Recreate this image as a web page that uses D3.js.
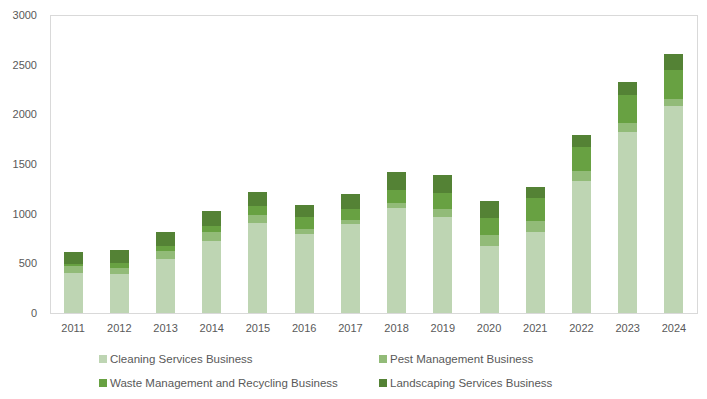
<!DOCTYPE html>
<meta charset="utf-8">
<style>
body { margin: 0; background: #fff; }
.axis text { font: 11px "Liberation Sans", sans-serif; fill: #595959; }
.legend text { font: 11.5px "Liberation Sans", sans-serif; fill: #595959; }
</style>
<div id="chart"></div>
<script src="https://d3js.org/d3.v7.min.js"></script>
<script>

// data
var years = ["2011","2012","2013","2014","2015","2016","2017","2018","2019","2020","2021","2022","2023","2024"];
var seriesNames = ["Cleaning Services Business", "Pest Management Business", "Waste Management and Recycling Business", "Landscaping Services Business"];
var cleaning    = [405, 397, 548, 729, 910, 799, 899, 1060, 970, 678, 819, 1332, 1824, 2085];
var pest        = [70, 60, 80, 90, 80, 50, 41, 51, 80, 111, 111, 100, 91, 71];
var waste       = [20, 51, 50, 60, 90, 121, 110, 130, 161, 171, 231, 241, 281, 291];
var landscaping = [121, 130, 141, 151, 141, 120, 151, 181, 181, 171, 111, 121, 131, 161];
var yTicks = [0, 500, 1000, 1500, 2000, 2500, 3000];
var colors = ["#bed5b3", "#92bb78", "#68a142", "#548235"];

var W = 707, H = 399;
var margin = {top: 15, right: 10, bottom: 86, left: 50};
var width = W - margin.left - margin.right,
    height = H - margin.top - margin.bottom;

var rows = years.map(function(y, i) {
  return {year: y, s0: cleaning[i], s1: pest[i], s2: waste[i], s3: landscaping[i]};
});
var stack = d3.stack().keys(["s0", "s1", "s2", "s3"])(rows);

var svg = d3.select("#chart").append("svg")
    .attr("width", W).attr("height", H)
  .append("g")
    .attr("transform", "translate(" + margin.left + "," + margin.top + ")");

var x = d3.scaleBand().domain(years).range([0, width]).paddingInner(0.59).paddingOuter(0.295);
var y = d3.scaleLinear().domain([0, 3000]).range([height, 0]);

// plot area border
svg.append("rect")
  .attr("x", 0).attr("y", 0).attr("width", width).attr("height", height)
  .attr("fill", "none").attr("stroke", "#d9d9d9").attr("stroke-width", 1)
  .attr("shape-rendering", "crispEdges");

svg.append("g")
  .selectAll("g")
  .data(stack)
  .enter().append("g")
    .attr("fill", function(d, i) { return colors[i]; })
  .selectAll("rect")
  .data(function(d) { return d; })
  .enter().append("rect")
    .attr("x", function(d) { return x(d.data.year); })
    .attr("y", function(d) { return y(d[1]); })
    .attr("height", function(d) { return y(d[0]) - y(d[1]); })
    .attr("width", x.bandwidth())
    .attr("shape-rendering", "crispEdges");

var yAxis = svg.append("g").attr("class", "axis")
  .call(d3.axisLeft(y).tickValues(yTicks).tickFormat(d3.format("d")).tickSize(0).tickPadding(13));
yAxis.select(".domain").remove();

var xAxis = svg.append("g").attr("class", "axis")
  .attr("transform", "translate(0," + height + ")")
  .call(d3.axisBottom(x).tickSize(0).tickPadding(11));
xAxis.select(".domain").remove();

// legend (absolute page positions)
var legendPos = [[99, 359], [379, 359], [99, 383], [379, 383]];
var legend = d3.select("#chart svg").append("g").attr("class", "legend")
  .selectAll("g")
  .data(seriesNames)
  .enter().append("g")
    .attr("transform", function(d, i) { return "translate(" + legendPos[i][0] + "," + legendPos[i][1] + ")"; });
legend.append("rect")
  .attr("x", 0).attr("y", -4).attr("width", 8).attr("height", 8)
  .attr("fill", function(d, i) { return colors[i]; });
legend.append("text")
  .attr("x", 11).attr("y", 0).attr("dy", "0.35em")
  .text(function(d) { return d; });

</script>
